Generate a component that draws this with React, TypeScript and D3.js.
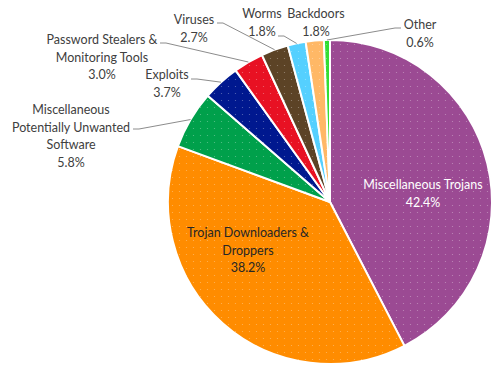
import React from "react";
import * as d3 from "d3";

const categories = [
  "Miscellaneous Trojans",
  "Trojan Downloaders & Droppers",
  "Miscellaneous Potentially Unwanted Software",
  "Exploits",
  "Password Stealers & Monitoring Tools",
  "Viruses",
  "Worms",
  "Backdoors",
  "Other",
];
const values = [42.4, 38.2, 5.8, 3.7, 3.0, 2.7, 1.8, 1.8, 0.6];
const labelLines = [
  ["Miscellaneous Trojans"],
  ["Trojan Downloaders &", "Droppers"],
  ["Miscellaneous", "Potentially Unwanted", "Software"],
  ["Exploits"],
  ["Password Stealers &", "Monitoring Tools"],
  ["Viruses"],
  ["Worms"],
  ["Backdoors"],
  ["Other"],
];
const colors = [
  "#9B4A93",
  "#FF8C00",
  "#00A04B",
  "#00188F",
  "#E81123",
  "#5C4326",
  "#55D0FF",
  "#FFB866",
  "#33DD33",
];

// layout: label centre x, first-line baseline y, leader anchor (x,y) or null, inside/outside
const labelLayout = [
  { x: 423, y: 189, inside: true, fill: "#FFFFFF", anchor: null },
  { x: 248, y: 237, inside: true, fill: "#262626", anchor: null },
  { x: 71, y: 114, inside: false, fill: "#404040", anchor: [133, 129, 1] },
  { x: 167, y: 79, inside: false, fill: "#404040", anchor: [191, 79, 1] },
  { x: 102, y: 44, inside: false, fill: "#404040", anchor: [160, 43, 1] },
  { x: 194, y: 24, inside: false, fill: "#404040", anchor: [217, 23, 1] },
  { x: 262, y: 18, inside: false, fill: "#404040", anchor: [278, 36, 1] },
  { x: 316, y: 18, inside: false, fill: "#404040", anchor: null },
  { x: 420, y: 29, inside: false, fill: "#404040", anchor: [401, 28, -1] },
];

const W = 501;
const H = 365;
const CX = 330;
const CY = 202;
const R = 162;
const LH = 17.5;

export default function App() {
  const pie = d3.pie<number>().sort(null).value((d) => d);
  const arcs = pie(values);
  const arc = d3.arc<d3.PieArcDatum<number>>().innerRadius(0).outerRadius(R);
  return (
    <svg
      width={W}
      height={H}
      style={{ position: "absolute", left: 0, top: 0 }}
      fontFamily="Lato, 'Noto Sans', sans-serif"
      fontSize={12.5}
    >
      <defs>
        <pattern id="dots" width="7" height="7" patternUnits="userSpaceOnUse">
          <circle cx="3.5" cy="3.5" r="0.6" fill="#ffffff" opacity="0.35" />
        </pattern>
      </defs>
      <rect width={W} height={H} fill="#ffffff" />
      <g transform={`translate(${CX},${CY})`}>
        {arcs.map((a, i) => (
          <g key={categories[i]}>
            <path d={arc(a) || ""} fill={colors[i]} />
            <path d={arc(a) || ""} fill="url(#dots)" stroke="#ffffff" strokeWidth={2} strokeLinejoin="round" />
          </g>
        ))}
      </g>
      {arcs.map((a, i) => {
        const L = labelLayout[i];
        if (!L.anchor) return null;
        const mid = (a.startAngle + a.endAngle) / 2;
        const px = CX + R * Math.sin(mid);
        const py = CY - R * Math.cos(mid);
        const [ax, ay, dir] = L.anchor;
        const pts = [
          [ax, ay],
          [ax + dir * 6, ay],
          [px, py],
        ];
        return (
          <polyline
            key={"l" + i}
            points={pts.map((p) => p.join(",")).join(" ")}
            fill="none"
            stroke="#8c8c8c"
            strokeWidth={1}
          />
        );
      })}
      {arcs.map((a, i) => {
        const L = labelLayout[i];
        const lines = [...labelLines[i], `${values[i].toFixed(1)}%`];
        return (
          <text key={"t" + i} textAnchor="middle" fill={L.fill}>
            {lines.map((ln, j) => (
              <tspan key={j} x={L.x} y={L.y + j * LH}>
                {ln}
              </tspan>
            ))}
          </text>
        );
      })}
    </svg>
  );
}
